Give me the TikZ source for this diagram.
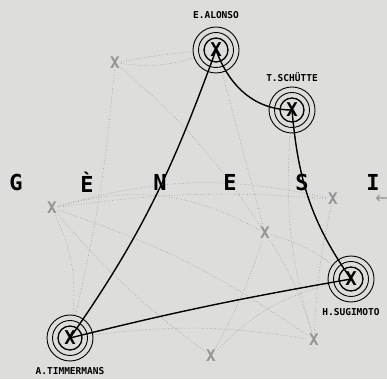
\documentclass[tikz,border=0pt]{standalone}
\usepackage{fontspec}
\setmonofont{DejaVu Sans Mono}
\newfontfamily\symfont{DejaVu Sans}
\usetikzlibrary{positioning, backgrounds}
\definecolor{PaperGray}{RGB}{221,221,219}
\definecolor{NetGray}{RGB}{150,150,150}
\definecolor{MarkGray}{RGB}{148,148,148}
\tikzset{
    ring/.style={circle, draw=black, line width=0.9pt, inner sep=0pt, minimum size=#1},
    hub/.style={text=black, font=\ttfamily\bfseries\fontsize{19}{19}\selectfont, inner sep=0pt},
    xmark/.style={text=MarkGray, font=\ttfamily\bfseries\fontsize{16}{16}\selectfont, inner sep=1pt},
    lbl/.style={font=\ttfamily\bfseries\fontsize{9.5}{9.5}\selectfont, inner sep=1pt},
    letter/.style={font=\ttfamily\bfseries\fontsize{22}{22}\selectfont, inner sep=0pt},
    link/.style={draw=black, line width=1.4pt},
    net/.style={draw=NetGray, dotted, line width=0.6pt}
}

\begin{document}
\begin{tikzpicture}[x=1pt, y=1pt]
    \useasboundingbox (0,0) rectangle (387,379);
    \clip (0,0) rectangle (387,379);

    % Hubs (names)
    \node[hub] (alonso) at (216,329) {X};
    \node[hub] (schutte) at (292,269) {X};
    \node[hub] (sugimoto) at (351,100) {X};
    \node[hub] (timmermans) at (70,41) {X};
    \foreach \h in {alonso, schutte, sugimoto, timmermans} {
        \node[ring=46pt] (\h-out) at (\h) {};
        \node[ring=35pt] at (\h) {};
        \node[ring=24pt, line width=1.3pt] at (\h) {};
    }
    \node[lbl, above=7pt of alonso-out] {E.ALONSO};
    \node[lbl, above=4pt of schutte-out] {T.SCH\"UTTE};
    \node[lbl, below=5pt of sugimoto-out] {H.SUGIMOTO};
    \node[lbl, below=5pt of timmermans-out] {A.TIMMERMANS};

    % Grey markers
    \node[xmark] (g1) at (115,316) {X};
    \node[xmark] (g2) at (52,171) {X};
    \node[xmark] (g3) at (333,180) {X};
    \node[xmark] (g4) at (265,146) {X};
    \node[xmark] (g5) at (314,39) {X};
    \node[xmark] (g6) at (211,23) {X};
    \node[text=MarkGray, font=\symfont\fontsize{16}{16}\selectfont, inner sep=0pt] (back) at (382,180) {←};

    % Title letters
    \node[letter] (lG) at (16,197) {G};
    \node[letter] (lE1) at (87,197) {È};
    \node[letter] (lN) at (160,197) {N};
    \node[letter] (lE2) at (230,197) {E};
    \node[letter] (lS) at (302,197) {S};
    \node[letter] (lI) at (373,197) {I};

    \begin{scope}[on background layer]
        \fill[PaperGray] (0,0) rectangle (387,379);
        % dotted net
        \draw[net] (g1) to[bend left=3] (alonso-out);
        \draw[net] (g1) to[bend right=12] (alonso-out);
        \draw[net] (g1) to[bend left=4] (timmermans-out);
        \draw[net] (g1) to[bend left=8] (g4);
        \draw[net] (alonso-out) -- (g4);
        \draw[net] (g2) to[bend left=15] (timmermans-out);
        \draw[net] (g2) to[bend left=6] (g3);
        \draw[net] (g2) to[bend left=14] (g3);
        \draw[net] (g2) to[bend left=22] (g4);
        \draw[net] (g2) to[bend right=6] (g6);
        \draw[net] (g2) to[bend left=8] (g5);
        \draw[net] (g4) to[bend left=10] (sugimoto-out);
        \draw[net] (g4) to[bend left=8] (g5);
        \draw[net] (g3) to[bend right=5] (g5);
        \draw[net] (schutte-out) to[bend right=10] (g5);
        \draw[net] (timmermans-out) to[bend left=8] (g5);
        \draw[net] (g6) to[bend left=15] (sugimoto-out);
        \draw[net] (g6) to[bend right=5] (g4);
        % links
        \draw[link] (alonso.center) to[out=-70, in=180] (schutte.center);
        \draw[link] (schutte.center) to[out=-85, in=125] (sugimoto.center);
        \draw[link] (alonso.center) to[out=250, in=55] (timmermans.center);
        \draw[link] (timmermans.center) to[out=14, in=190] (sugimoto.center);
    \end{scope}
\end{tikzpicture}
\end{document}
